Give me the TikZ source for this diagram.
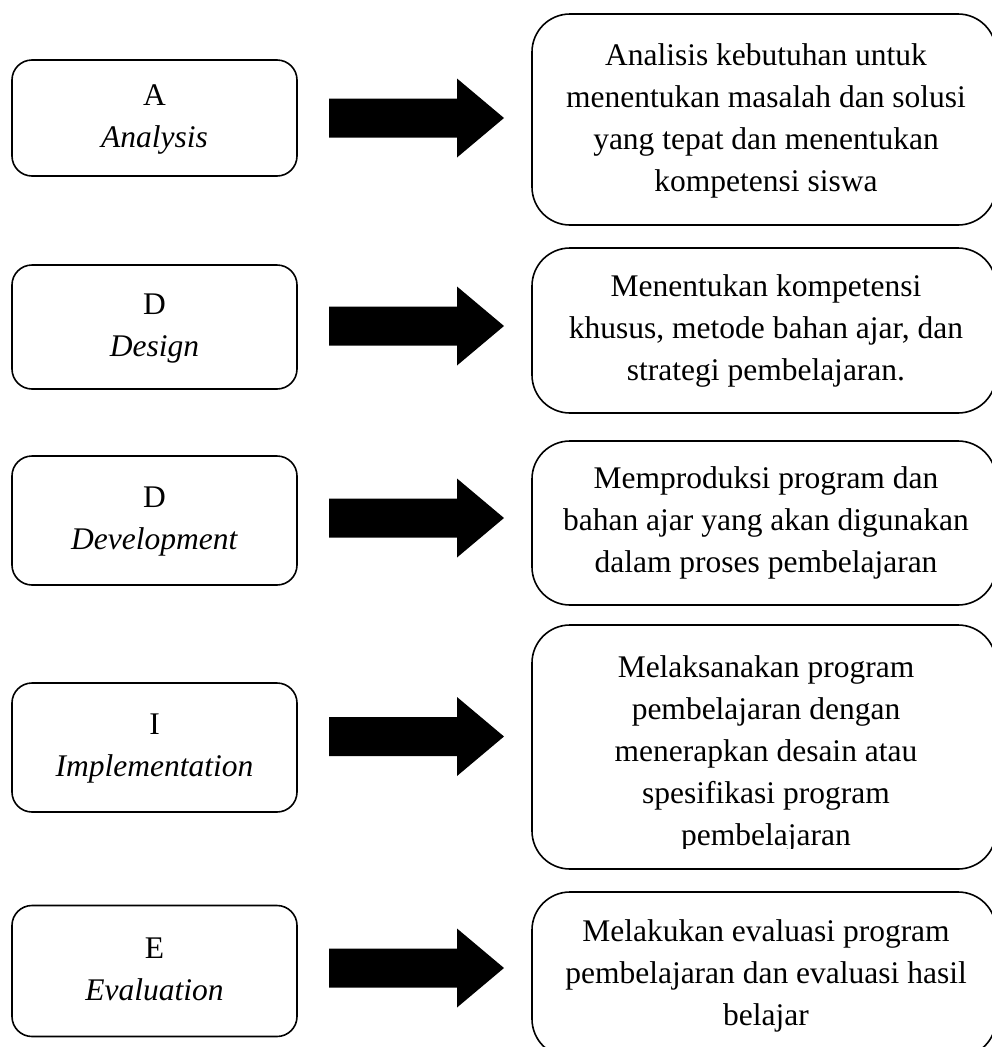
\documentclass[tikz,border=0pt]{standalone}
\usepackage{fontspec}
\setmainfont{Liberation Serif}
\begin{document}
\begin{tikzpicture}[x=1pt,y=-1pt,
  every node/.style={font=\fontsize{31.5}{42}\selectfont},
  stage/.style={draw, line width=1.6pt, rounded corners=20pt, align=center,
    inner sep=0pt, minimum width=285pt},
  detail/.style={draw, line width=1.6pt, rounded corners=38pt,
    minimum width=464pt, inner sep=0pt},
  desc/.style={align=center, inner sep=0pt},
  blockarrow/.pic={
    \fill[black] (-87.5,-19.5) -- ++(128,0) -- ++(0,-20) -- ++(47,39.5)
      -- ++(-47,39.5) -- ++(0,-20) -- ++(-128,0) -- cycle;
    \coordinate (-tail) at (-87.5,0);
    \coordinate (-tip) at (87.5,0);
  }
]
\fill[white] (0,0) rectangle (992,1047);
\useasboundingbox (0,0) rectangle (992,1047);

% ADDIE stages
\node[stage, minimum height=116pt] (sA)  at (154.5,118)   {\strut A\\\textit{Analysis}\strut};
\node[stage, minimum height=124pt] (sD)  at (154.5,327)   {\strut D\\\textit{Design}\strut};
\node[stage, minimum height=129pt] (sDv) at (154.5,520.5) {\strut D\\\textit{Development}\strut};
\node[stage, minimum height=129pt] (sI)  at (154.5,747.5) {\strut I\\\textit{Implementation}\strut};
\node[stage, minimum height=131pt] (sE)  at (154.5,971)   {\strut E\\\textit{Evaluation}\strut};

% description boxes
\node[detail, minimum height=211pt] (rA)  at (764,119.5) {};
\node[detail, minimum height=165pt] (rD)  at (764,330.5) {};
\node[detail, minimum height=164pt] (rDv) at (764,523)   {};
\node[detail, minimum height=244pt] (rI)  at (764,747)   {};
\node[detail, minimum height=165pt] (rE)  at (764,974.5) {};

\node[desc] (tA) at (766,119.6) {\strut Analisis kebutuhan untuk\\menentukan masalah dan solusi\\yang tepat dan menentukan\\kompetensi siswa\strut};
\node[desc] (tD) at (766,329.6) {\strut Menentukan kompetensi\\khusus, metode bahan ajar, dan\\strategi pembelajaran.\strut};
\node[desc] (tDv) at (766,521.6) {\strut Memproduksi program dan\\bahan ajar yang akan digunakan\\dalam proses pembelajaran\strut};
\begin{scope}
  \clip (532,620) rectangle (996,848);
  \node[desc] (tI) at (766,753) {\strut Melaksanakan program\\pembelajaran dengan\\menerapkan desain atau\\spesifikasi program\\pembelajaran\strut};
\end{scope}
\node[desc] (tE) at (766,974.6) {\strut Melakukan evaluasi program\\pembelajaran dan evaluasi hasil\\belajar\strut};

% block arrows from each stage to its description
\pic (aA)  at (416.5,118)   {blockarrow};
\pic (aD)  at (416.5,326)   {blockarrow};
\pic (aDv) at (416.5,518)   {blockarrow};
\pic (aI)  at (416.5,736.5) {blockarrow};
\pic (aE)  at (416.5,968)   {blockarrow};
\end{tikzpicture}
\end{document}
